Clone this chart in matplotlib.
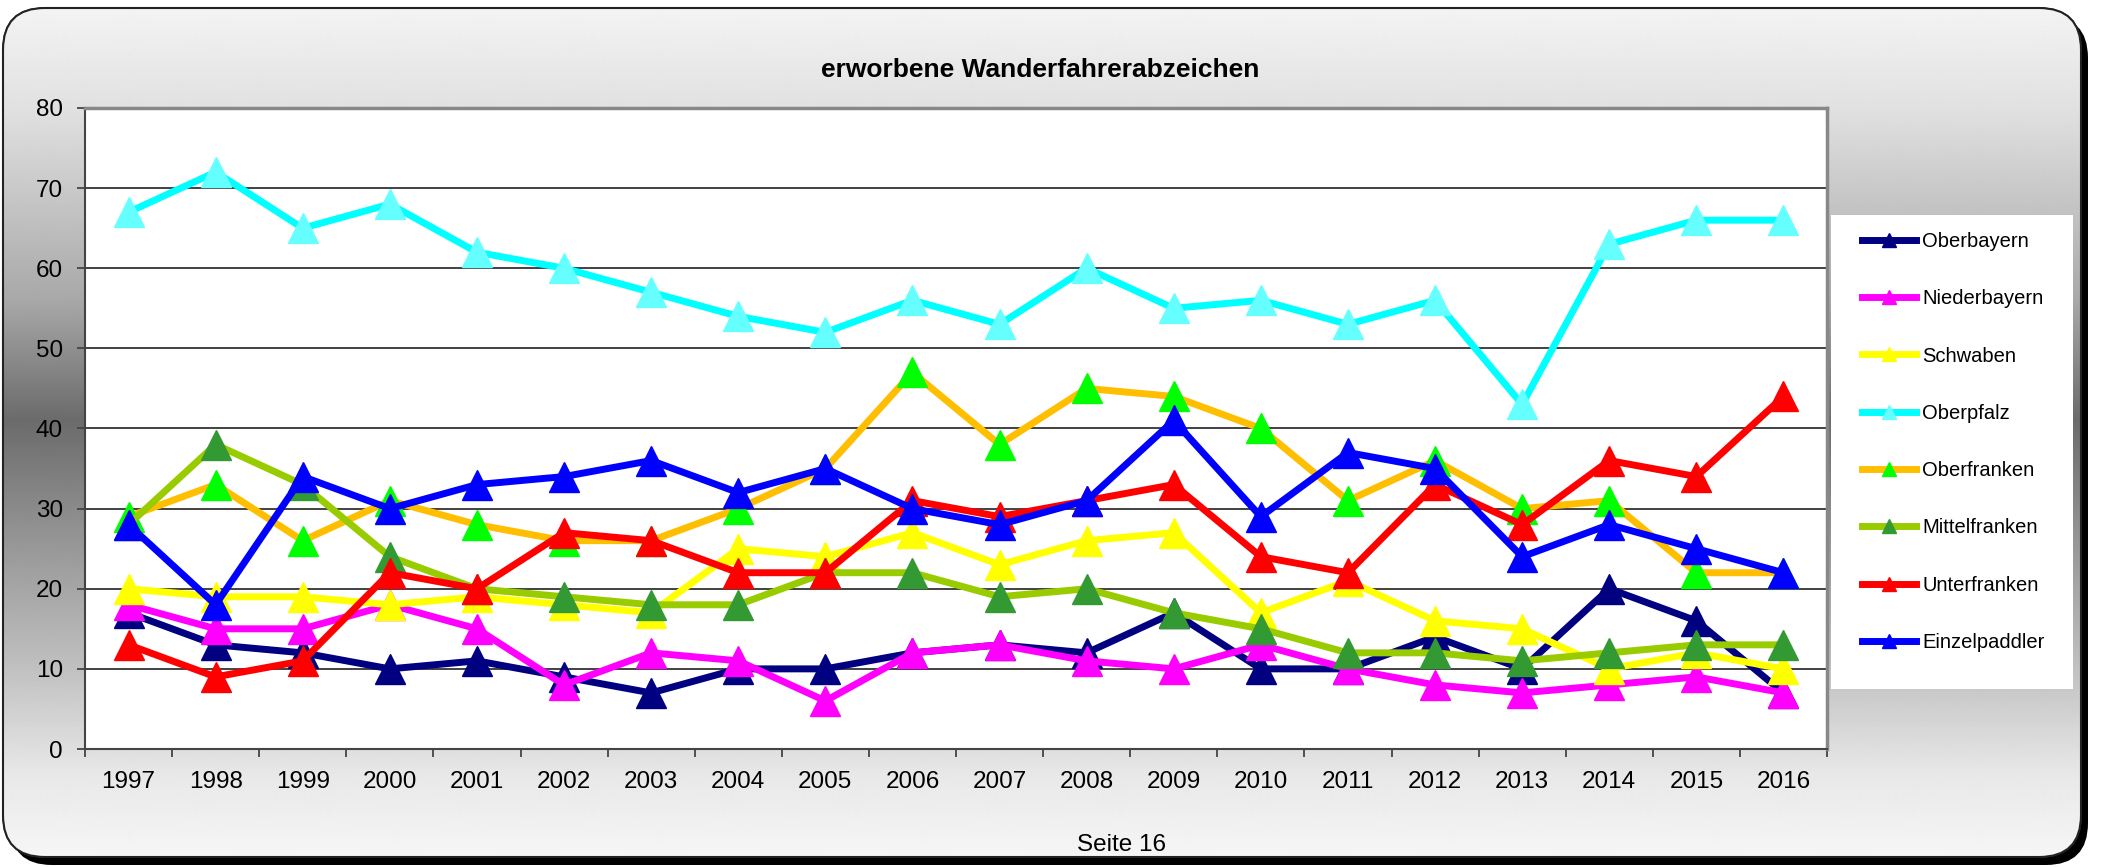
#! /usr/bin/env python3
# erworbene Wanderfahrerabzeichen 1997-2016, Excel-style line chart

import numpy as np
import matplotlib
matplotlib.use("Agg")
import matplotlib.pyplot as plt
from matplotlib.patches import FancyBboxPatch, Rectangle

plt.rcParams['font.family'] = ['Liberation Sans', 'DejaVu Sans']

### Data ######################################################################
years = [str(y) for y in range(1997, 2017)]

oberbayern    = [17, 13, 12, 10, 11, 9, 7, 10, 10, 12, 13, 12, 17, 10, 10, 14, 10, 20, 16, 7]
niederbayern  = [18, 15, 15, 18, 15, 8, 12, 11, 6, 12, 13, 11, 10, 13, 10, 8, 7, 8, 9, 7]
schwaben      = [20, 19, 19, 18, 19, 18, 17, 25, 24, 27, 23, 26, 27, 17, 21, 16, 15, 10, 12, 10]
oberpfalz     = [67, 72, 65, 68, 62, 60, 57, 54, 52, 56, 53, 60, 55, 56, 53, 56, 43, 63, 66, 66]
oberfranken   = [29, 33, 26, 31, 28, 26, 26, 30, 35, 47, 38, 45, 44, 40, 31, 36, 30, 31, 22, 22]
mittelfranken = [28, 38, 33, 24, 20, 19, 18, 18, 22, 22, 19, 20, 17, 15, 12, 12, 11, 12, 13, 13]
unterfranken  = [13, 9, 11, 22, 20, 27, 26, 22, 22, 31, 29, 31, 33, 24, 22, 33, 28, 36, 34, 44]
einzelpaddler = [28, 18, 34, 30, 33, 34, 36, 32, 35, 30, 28, 31, 41, 29, 37, 35, 24, 28, 25, 22]

series = [
    ("Oberbayern",    oberbayern,    "#000080", "#000080"),
    ("Niederbayern",  niederbayern,  "#FF00FF", "#FF00FF"),
    ("Schwaben",      schwaben,      "#FFFF00", "#FFFF00"),
    ("Oberpfalz",     oberpfalz,     "#00FFFF", "#66FFFF"),
    ("Oberfranken",   oberfranken,   "#FFBF00", "#00FF00"),
    ("Mittelfranken", mittelfranken, "#99CC00", "#339933"),
    ("Unterfranken",  unterfranken,  "#FF0000", "#FF0000"),
    ("Einzelpaddler", einzelpaddler, "#0000FF", "#0000FF"),
]

W, H = 2111, 867
fig = plt.figure(figsize=(W / 100, H / 100), dpi=100)

### Background: rounded box with vertical gray gradient + shadow ##############
bg = fig.add_axes([0, 0, 1, 1])
bg.set_xlim(0, W)
bg.set_ylim(H, 0)
bg.axis("off")

shadow = FancyBboxPatch((10, 16), 2078, 849, boxstyle="round,pad=0,rounding_size=42",
                        facecolor="black", edgecolor="none", zorder=1)
bg.add_patch(shadow)
box = FancyBboxPatch((3, 8), 2078, 849, boxstyle="round,pad=0,rounding_size=42",
                     facecolor="white", edgecolor="#333333", lw=1.2, zorder=2)
bg.add_patch(box)

stops_y = [0, 110, 300, 420, 550, 665, 775, 867]
stops_g = [0.96, 0.88, 0.66, 0.42, 0.60, 0.75, 0.91, 0.97]
rows = np.interp(np.arange(H), stops_y, stops_g)
grad = np.repeat(rows[:, None], 8, axis=1)
im = bg.imshow(grad, cmap="gray", vmin=0, vmax=1, extent=(0, W, H, 0),
               aspect="auto", zorder=3, interpolation="bilinear")
im.set_clip_path(box)
edge = FancyBboxPatch((3, 8), 2078, 849, boxstyle="round,pad=0,rounding_size=42",
                      facecolor="none", edgecolor="#222222", lw=1.5, zorder=4)
bg.add_patch(edge)

# white legend panel
bg.add_patch(Rectangle((1831, 215), 242, 474, facecolor="white", edgecolor="none", zorder=5))

### Plot area #################################################################
left, right, top, bottom = 85, 1827, 108, 749
ax = fig.add_axes([left / W, 1 - bottom / H, (right - left) / W, (bottom - top) / H])
ax.set_facecolor("white")

x = np.arange(len(years))
for name, vals, lc, mc in series:
    ax.plot(x, vals, color=lc, lw=5, marker="^", markersize=21,
            markerfacecolor=mc, markeredgecolor=mc, label=name, zorder=3)

ax.set_xlim(-0.5, len(years) - 0.5)
ax.set_ylim(0, 80)
ax.set_yticks(range(0, 81, 10))
ax.yaxis.grid(True, color="#333333", lw=1.3)
ax.set_axisbelow(True)

ax.set_xticks(x)
ax.set_xticklabels(years)
ax.set_xticks(np.arange(-0.5, len(years)), minor=True)
ax.tick_params(axis="x", which="major", length=0, pad=16, labelsize=17.5)
ax.tick_params(axis="x", which="minor", length=6, width=1.3, color="#444444")
ax.tick_params(axis="y", length=6, width=1.3, color="#444444", pad=10, labelsize=17.5)

for s in ["left", "bottom"]:
    ax.spines[s].set_color("#444444")
    ax.spines[s].set_linewidth(1.5)
for s in ["top", "right"]:
    ax.spines[s].set_color("#888888")
    ax.spines[s].set_linewidth(2.5)

### Legend ####################################################################
leg = fig.legend(loc="upper left", bbox_to_anchor=(1862 / W, 1 - 232 / H),
                 fontsize=14.5, markerscale=0.5, handlelength=2.7,
                 labelspacing=1.9, frameon=False,
                 borderpad=0, handletextpad=0.3, borderaxespad=0)

### Texts #####################################################################
fig.text(1040 / W, 1 - 70 / H, "erworbene Wanderfahrerabzeichen",
         ha="center", va="center", fontsize=19, fontweight="bold")
fig.text(1122 / W, 1 - 845 / H, "Seite 16", ha="center", va="center", fontsize=17.5)

fig.savefig("out.png", dpi=100)
